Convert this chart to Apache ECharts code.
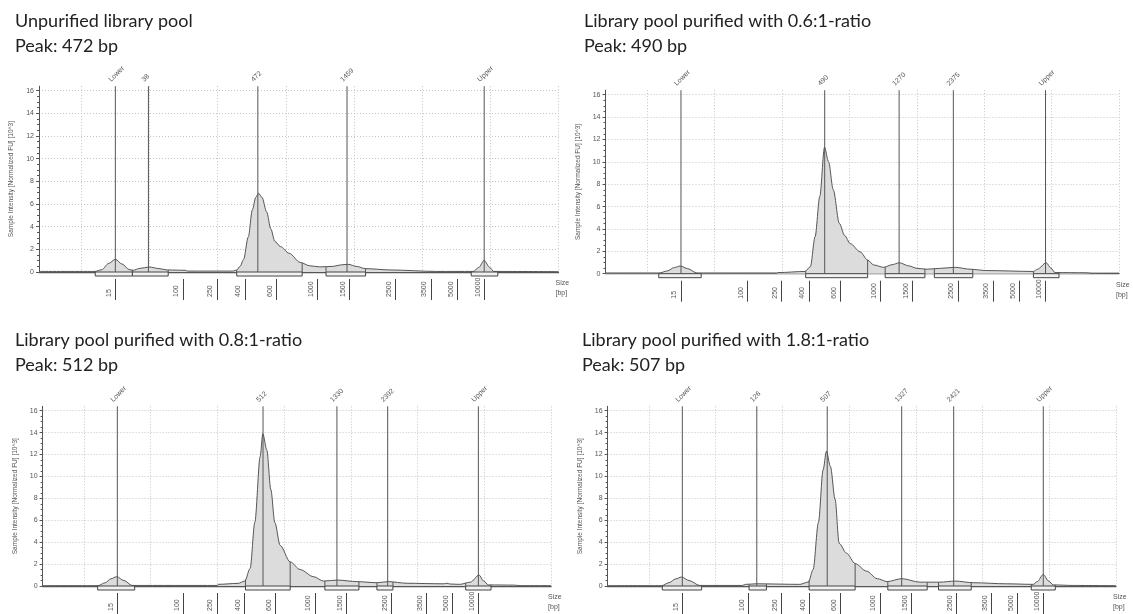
<!DOCTYPE html>
<html lang="en">
<head>
<meta charset="UTF-8">
<title>Library pool electropherograms</title>
<style>
    * { padding: 0; margin: 0; }
    .EC { width: 1133px; height: 614px; background: #fff; }
</style>
</head>
<body>
<div class="EC"></div>
<script src="https://cdn.jsdelivr.net/npm/echarts@6/dist/echarts.min.js"></script>
<script>
// sizing ladder: bp -> run position
const ladderBp = [15, 100, 250, 400, 600, 1000, 1500, 2500, 3500, 5000, 10000]
const ladderPos = [15, 24.9, 29.9, 34.0, 38.65, 44.6, 49.3, 56.1, 61.3, 65.2, 69.1]
const gridPos = [10, 20, 30, 40, 50, 60, 70, 80]
const yTicks = [0, 2, 4, 6, 8, 10, 12, 14, 16]

const titles = [
    'Unpurified library pool',
    'Library pool purified with 0.6:1-ratio',
    'Library pool purified with 0.8:1-ratio',
    'Library pool purified with 1.8:1-ratio'
]
const peakTexts = ['Peak: 472 bp', 'Peak: 490 bp', 'Peak: 512 bp', 'Peak: 507 bp']

// peak markers (label + size in bp)
const markerNames = [
    ['Lower', '38', '472', '1459', 'Upper'],
    ['Lower', '490', '1270', '2375', 'Upper'],
    ['Lower', '512', '1330', '2392', 'Upper'],
    ['Lower', '126', '507', '1327', '2421', 'Upper']
]
const markerBp = [
    [15, 38, 472, 1459, 10000],
    [15, 490, 1270, 2375, 10000],
    [15, 512, 1330, 2392, 10000],
    [15, 126, 507, 1327, 2421, 10000]
]

// integration regions [start, end] in run position
const regions1 = [[12.05, 17.5], [17.5, 22.75], [32.8, 42.4], [45.9, 51.7], [67.2, 71.1]]
const regions2 = [[11.7, 18.0], [33.5, 42.7], [45.3, 51.2], [52.6, 58.3], [67.3, 71.1]]
const regions3 = [[12.05, 17.6], [34.2, 40.9], [46.1, 51.2], [53.9, 56.3], [67.2, 71.0]]
const regions4 = [[12.0, 17.9], [25.0, 27.6], [34.0, 40.9], [45.8, 51.7], [53.4, 58.3], [67.3, 70.9]]

// traces [run position, intensity 10^3 FU]
const trace1 = [[3.8,0.05],[12.0,0.05],[13.0,0.2],[14.0,0.75],[15.0,1.12],[16.0,0.7],[17.0,0.22],[17.6,0.15],[18.6,0.32],[20.0,0.44],[21.4,0.3],[22.6,0.18],[25.2,0.15],[25.6,0.08],[32.3,0.08],[32.8,0.18],[33.3,0.5],[33.8,1.1],[34.5,3.1],[35.1,5.5],[35.6,6.6],[36.0,6.95],[36.5,6.6],[37.2,5.3],[37.8,3.8],[38.4,2.7],[39.2,2.25],[40.5,1.65],[42.1,0.85],[43.5,0.55],[45.0,0.45],[47.0,0.5],[48.0,0.62],[49.1,0.68],[50.5,0.48],[51.6,0.3],[55.3,0.18],[62.1,0.05],[67.5,0.05],[68.3,0.4],[69.1,1.03],[69.9,0.4],[70.5,0.05],[80,0.03]]
const trace2 = [[3.8,0.05],[11.7,0.05],[13.0,0.25],[14.0,0.55],[14.9,0.69],[16.0,0.45],[17.4,0.05],[29.2,0.05],[29.4,0.1],[33.4,0.2],[34.2,0.63],[34.9,3.3],[35.6,6.9],[36.3,11.3],[36.9,10.0],[37.6,7.5],[38.5,4.5],[39.3,3.4],[40.1,2.7],[41.6,1.95],[42.7,1.22],[43.6,0.78],[45.1,0.57],[46.3,0.8],[47.4,0.98],[48.8,0.7],[50.0,0.48],[51.5,0.4],[53.5,0.48],[55.7,0.57],[57.9,0.4],[60.4,0.28],[67.3,0.2],[67.9,0.4],[69.2,0.98],[69.9,0.5],[70.5,0.1],[75.1,0.08],[76,0.03],[80,0.03]]
const trace3 = [[3.8,0.03],[12.1,0.03],[13.2,0.3],[14.0,0.65],[14.9,0.85],[16.0,0.5],[17.2,0.05],[30.0,0.05],[30.1,0.15],[33.1,0.24],[34.1,0.45],[34.9,1.6],[35.6,5.8],[36.4,11.8],[36.8,13.9],[37.4,12.4],[38.0,8.8],[38.6,5.8],[39.4,3.7],[40.9,2.2],[42.4,1.5],[44.4,0.85],[45.9,0.45],[48.0,0.54],[50.9,0.4],[53.9,0.3],[55.6,0.4],[58.4,0.25],[63.9,0.2],[64.4,0.25],[64.9,0.18],[66.3,0.15],[67.9,0.35],[69.2,1.0],[69.9,0.45],[70.6,0.1],[74.4,0.08],[75.5,0.03],[80,0.03]]
const trace4 = [[3.8,0.03],[11.9,0.03],[13.0,0.3],[14.0,0.65],[14.9,0.82],[16.0,0.5],[17.6,0.05],[24.0,0.05],[24.5,0.15],[26.1,0.2],[32.6,0.15],[33.9,0.36],[34.6,1.5],[35.4,5.8],[36.1,10.6],[36.6,12.3],[37.2,10.9],[37.9,7.9],[38.5,3.9],[39.6,3.0],[40.9,2.05],[42.6,1.36],[44.2,0.67],[45.7,0.4],[47.9,0.67],[50.6,0.35],[53.6,0.35],[55.9,0.45],[58.6,0.3],[63.6,0.2],[67.6,0.15],[68.2,0.4],[69.1,1.06],[69.9,0.45],[70.6,0.1],[73.6,0.05],[80,0.03]]

const traces = [trace1, trace2, trace3, trace4]
const regions = [regions1, regions2, regions3, regions4]

// panel placement
const layout = [
    { left: 39, top: 86.2, width: 519.5, height: 185.8, tx: 15, ty: 9 },
    { left: 605.5, top: 90.2, width: 513.5, height: 183.5, tx: 584, ty: 9 },
    { left: 42.6, top: 406.3, width: 508.5, height: 181.4, tx: 15, ty: 328 },
    { left: 607.6, top: 406.3, width: 508.4, height: 180.4, tx: 582, ty: 328 }
]

const X_MIN = 3.8, X_MAX = 80, Y_MAX = 16.4
const INK = '#555'
const SMALL = { fontFamily: 'Liberation Sans', fontSize: 7, color: INK }

// bp -> run position, log interpolation between ladder bands
const bpToPos = bp => {
    for (let i = 0; i < ladderBp.length - 1; i++) {
        if (bp <= ladderBp[i + 1]) {
            let t = Math.log(bp / ladderBp[i]) / Math.log(ladderBp[i + 1] / ladderBp[i])
            return ladderPos[i] + t * (ladderPos[i + 1] - ladderPos[i])
        }
    }
    return ladderPos[ladderPos.length - 1]
}
const traceAt = (tr, x) => {
    for (let i = 0; i < tr.length - 1; i++) {
        if (x >= tr[i][0] && x <= tr[i + 1][0]) {
            let t = (x - tr[i][0]) / (tr[i + 1][0] - tr[i][0])
            return tr[i][1] + t * (tr[i + 1][1] - tr[i][1])
        }
    }
    return 0
}
const ladderLabel = v => {
    let i = ladderPos.findIndex(p => Math.abs(p - v) < 0.01)
    return i < 0 ? '' : String(ladderBp[i])
}

let EC = echarts.init(document.querySelector('.EC'))
let option = {
    backgroundColor: '#fff',
    animation: false,
    title: [], grid: [], xAxis: [], yAxis: [], series: []
}

layout.forEach((L, k) => {
    option.title.push({
        text: titles[k] + '\n' + peakTexts[k],
        left: L.tx, top: L.ty, padding: 0,
        textStyle: { fontFamily: 'Lato', fontSize: 18, fontWeight: 'normal', color: '#222', lineHeight: 25 }
    })
    option.grid.push({ left: L.left, top: L.top, width: L.width, height: L.height, containLabel: false })
    // grid lines + baseline
    option.xAxis.push({
        type: 'value', gridIndex: k, position: 'top', min: X_MIN, max: X_MAX,
        name: 'Size\n[bp]', nameLocation: 'end', nameGap: -3,
        nameTextStyle: Object.assign({}, SMALL, { align: 'left', verticalAlign: 'top', lineHeight: 10, padding: [6, 0, 0, 0] }),
        axisLine: { show: true, onZero: true, lineStyle: { color: INK, width: 1.3 } },
        axisTick: { show: false, customValues: gridPos },
        axisLabel: { show: false },
        splitLine: { show: true, lineStyle: { color: '#c4c4c4', type: [1, 2] } }
    })
    // sizing ladder
    option.xAxis.push({
        type: 'value', gridIndex: k, position: 'bottom', offset: 7, min: X_MIN, max: X_MAX,
        axisLine: { show: false },
        axisTick: { show: true, customValues: ladderPos, length: 21, lineStyle: { color: '#444', width: 1 } },
        axisLabel: Object.assign({}, SMALL, {
            customValues: ladderPos, formatter: ladderLabel, rotate: 90, margin: 18,
            align: 'left', verticalAlign: 'bottom', padding: [0, 0, 3, 0]
        }),
        splitLine: { show: false }
    })
    option.yAxis.push({
        type: 'value', gridIndex: k, min: 0, max: Y_MAX, interval: 2,
        name: 'Sample Intensity [Normalized FU] [10^3]', nameLocation: 'middle', nameGap: 24,
        nameTextStyle: Object.assign({}, SMALL, { fontSize: 6.5 }),
        axisLine: { show: true, lineStyle: { color: INK } },
        axisTick: { show: true, customValues: yTicks, length: 3, lineStyle: { color: INK } },
        minorTick: { show: true, splitNumber: 4, length: 2, lineStyle: { color: INK } },
        axisLabel: Object.assign({}, SMALL, { customValues: yTicks, margin: 5 }),
        splitLine: { show: true, lineStyle: { color: '#c4c4c4', type: [1, 2] } }
    })

    const tr = traces[k]
    option.series.push({
        type: 'line', xAxisIndex: 2 * k, yAxisIndex: k,
        data: tr, symbol: 'none', smooth: 0.3, smoothMonotone: 'x',
        lineStyle: { color: INK, width: 1 },
        areaStyle: { color: '#dcdcdc', opacity: 1 },
        z: 2
    })
    // region boxes under the baseline
    option.series.push({
        type: 'custom', xAxisIndex: 2 * k, yAxisIndex: k, z: 3,
        data: regions[k],
        renderItem: (params, api) => {
            let a = api.value(0), b = api.value(1)
            let p0 = api.coord([a, 0]), p1 = api.coord([b, 0])
            let ha = api.coord([a, traceAt(tr, a)]), hb = api.coord([b, traceAt(tr, b)])
            return {
                type: 'group', children: [
                    { type: 'rect', shape: { x: p0[0], y: p0[1], width: p1[0] - p0[0], height: 4 },
                      style: { fill: '#f2f2f2', stroke: '#444', lineWidth: 1 } },
                    { type: 'line', shape: { x1: p0[0], y1: p0[1], x2: ha[0], y2: ha[1] }, style: { stroke: INK, lineWidth: 1 } },
                    { type: 'line', shape: { x1: p1[0], y1: p1[1], x2: hb[0], y2: hb[1] }, style: { stroke: INK, lineWidth: 1 } }
                ]
            }
        }
    })
    // peak marker lines with slanted labels
    const names = markerNames[k]
    option.series.push({
        type: 'custom', xAxisIndex: 2 * k, yAxisIndex: k, z: 4,
        data: markerBp[k].map(bp => [bpToPos(bp)]),
        renderItem: (params, api) => {
            let x = api.value(0)
            let p0 = api.coord([x, 0]), p1 = api.coord([x, Y_MAX])
            return {
                type: 'group', children: [
                    { type: 'line', shape: { x1: p0[0], y1: p0[1], x2: p1[0], y2: p1[1] }, style: { stroke: INK, lineWidth: 1 } },
                    { type: 'text', x: p1[0] - 3, y: p1[1] - 3, rotation: Math.PI / 4,
                      style: { text: names[params.dataIndex], fontFamily: 'Liberation Sans', fontSize: 7, fill: INK, align: 'left', verticalAlign: 'bottom' } }
                ]
            }
        }
    })
})

EC.setOption(option)
</script>
</body>
</html>
